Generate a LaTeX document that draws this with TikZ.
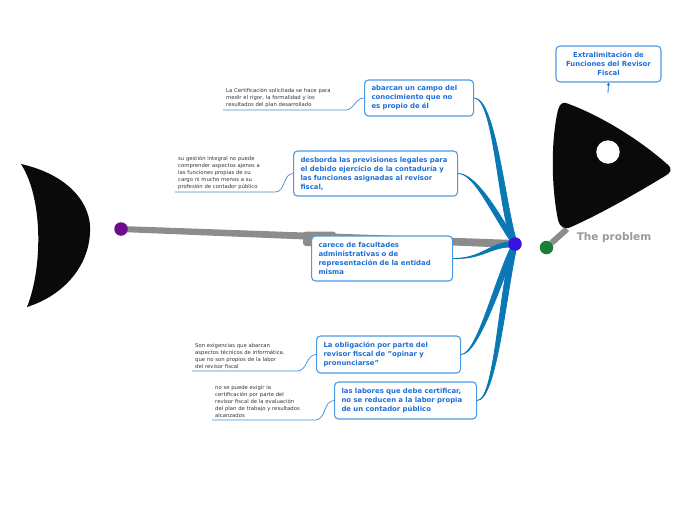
\documentclass[tikz,border=0pt]{standalone}
\usepackage{fontspec}
\setmainfont{DejaVu Sans}
\usetikzlibrary{positioning,arrows.meta,calc,backgrounds}
\definecolor{branchblue}{HTML}{0A78B4}
\definecolor{boxborder}{HTML}{4A9BE6}
\definecolor{boxtext}{HTML}{1E6FD9}
\definecolor{linkblue}{HTML}{3B8ED6}
\definecolor{notetext}{HTML}{333333}
\definecolor{spinegray}{HTML}{8C8C8C}
\definecolor{hubcol}{HTML}{3A12E0}
\definecolor{tailcol}{HTML}{6C0B8E}
\definecolor{neckcol}{HTML}{1E7D36}
\definecolor{fishblack}{HTML}{0A0A0A}

\begin{document}
\begin{tikzpicture}[
                x=1pt, y=-1pt,
                causebox/.style={rectangle, rounded corners=4pt, draw=boxborder, line width=1.1pt, fill=white, text=boxtext, font=\fontsize{6.9}{9}\selectfont\bfseries, align=left, anchor=west, inner xsep=7pt},
                note/.style={anchor=south west, font=\fontsize{5.3}{7}\selectfont, text=notetext, align=left, inner xsep=3pt, inner ysep=2pt},
                notelink/.style={draw=linkblue, line width=0.7pt},
                branch/.style={fill=branchblue, draw=branchblue, line width=0.8pt},
                dot/.style={circle, inner sep=0pt, minimum size=13.5pt}
                ]
                \useasboundingbox (0,0) rectangle (696,520);

                % tail, spine and head
                \fill[fishblack] (21,164) .. controls (70,175) and (92,205) .. (90,232) .. controls (89,265) and (65,295) .. (27,307) .. controls (42,270) and (44,200) .. (21,164) -- cycle;
                \fill[fishblack] (566,103) .. controls (600,115) and (640,140) .. (667,164) .. controls (673,169) and (671,173) .. (665,176) .. controls (632,196) and (600,214) .. (571,227) .. controls (564,230) and (560,227) .. (558,220) .. controls (551,185) and (551,140) .. (558,110) .. controls (560,104) and (562,102) .. (566,103) -- cycle;
                \fill[white] (608,152) circle (11.7);

                \node[dot, fill=tailcol] (tail) at (121,229) {};
                \node[dot, fill=hubcol] (hub) at (515,244) {};
                \node[dot, fill=neckcol] (neck) at (546.5,247.5) {};
                \coordinate (headbase) at (567,229);
                \coordinate (headtop) at (608,93);
                \node[font=\fontsize{10.5}{12}\selectfont\bfseries, text=black!40] (problem) at (614,238) {The problem};
                \node[causebox, anchor=center, align=center, text width=91, minimum height=36] (topic) at (608.5,64) {Extralimitación de\\Funciones del Revisor\\Fiscal};
                \draw[-{Stealth[length=3pt,width=3.5pt]}, draw=boxtext, line width=0.8pt] (headtop) -- (topic.south);

                % causes
                \node[causebox, text width=95, minimum width=109, minimum height=36] (c1) at (364,98) {abarcan un campo del\\conocimiento que no\\es propio de él};
                \node[causebox, text width=150, minimum width=164, minimum height=45] (c2) at (293,173.5) {desborda las previsiones legales para\\el debido ejercicio de la contaduría y\\las funciones asignadas al revisor\\fiscal,};
                \node[causebox, text width=127, minimum width=141, minimum height=45] (c3) at (311,258.5) {carece de facultades\\administrativas o de\\representación de la entidad\\misma};
                \node[causebox, text width=130, minimum width=144, minimum height=37] (c4) at (316,354.5) {La obligación por parte del\\revisor fiscal de "opinar y\\pronunciarse"};
                \node[causebox, text width=128, minimum width=142, minimum height=37] (c5) at (334,400.5) {las labores que debe certificar,\\no se reducen a la labor propia\\de un contador público};

                % notes
                \node[note, text width=116] (n1) at (223,110) {La Certificación solicitada se hace para\\medir el rigor, la formalidad y los\\resultados del plan desarrollado};
                \node[note, text width=94] (n2) at (175,192) {su gestión integral no puede\\comprender aspectos ajenos a\\las funciones propias de su\\cargo ni mucho menos a su\\profesión de contador público};
                \node[note, text width=99] (n4) at (192,371) {Son exigencias que abarcan\\aspectos técnicos de informática,\\que no son propios de la labor\\del revisor fiscal};
                \node[note, text width=97] (n5) at (212,420) {no se puede exigir la\\certificación por parte del\\revisor fiscal de la evaluación\\del plan de trabajo y resultados\\alcanzados};

                \draw[notelink] (n1.south west) -- (n1.south east) to[out=0, in=180] (c1.west);
                \draw[notelink] (n2.south west) -- (n2.south east) to[out=0, in=180] (c2.west);
                \draw[notelink] (n4.south west) -- (n4.south east) to[out=0, in=180] (c4.west);
                \draw[notelink] (n5.south west) -- (n5.south east) to[out=0, in=180] (c5.west);

                \begin{scope}[on background layer]
                    \fill[spinegray] ($(tail)+(0,-3)$) -- ($(hub)+(0,-4)$) -- ($(hub)+(0,4)$) -- ($(tail)+(0,3)$) -- cycle;
                    \fill[spinegray, rounded corners=3pt] (303,231.5) rectangle (336,246);
                    \draw[spinegray, line width=6pt] (neck) -- (headbase);
                    % tapered branches into the hub
                    \path[branch] (c1.east) .. controls +(20,0) and +(-15,-35) .. ($(hub)+(-2.5,0)$) -- ($(hub)+(2.5,0)$) .. controls +(-12,-35) and +(22,0) .. (c1.east) -- cycle;
                    \path[branch] (c2.east) .. controls +(16,0) and +(-22,-32) .. ($(hub)+(-2.5,0)$) -- ($(hub)+(2.5,0)$) .. controls +(-19,-32) and +(18,0) .. (c2.east) -- cycle;
                    \path[branch] (c3.east) .. controls +(30,0) and +(-25,0) .. ($(hub)+(0,-2.5)$) -- ($(hub)+(0,2.5)$) .. controls +(-25,0) and +(30,1) .. (c3.east) -- cycle;
                    \path[branch] (c4.east) .. controls +(16,0) and +(-17,32) .. ($(hub)+(-2.5,0)$) -- ($(hub)+(2.5,0)$) .. controls +(-14,32) and +(18,0) .. (c4.east) -- cycle;
                    \path[branch] (c5.east) .. controls +(18,0) and +(-14,45) .. ($(hub)+(-2.5,0)$) -- ($(hub)+(2.5,0)$) .. controls +(-11,45) and +(20,0) .. (c5.east) -- cycle;
                \end{scope}
            \end{tikzpicture}
\end{document}
